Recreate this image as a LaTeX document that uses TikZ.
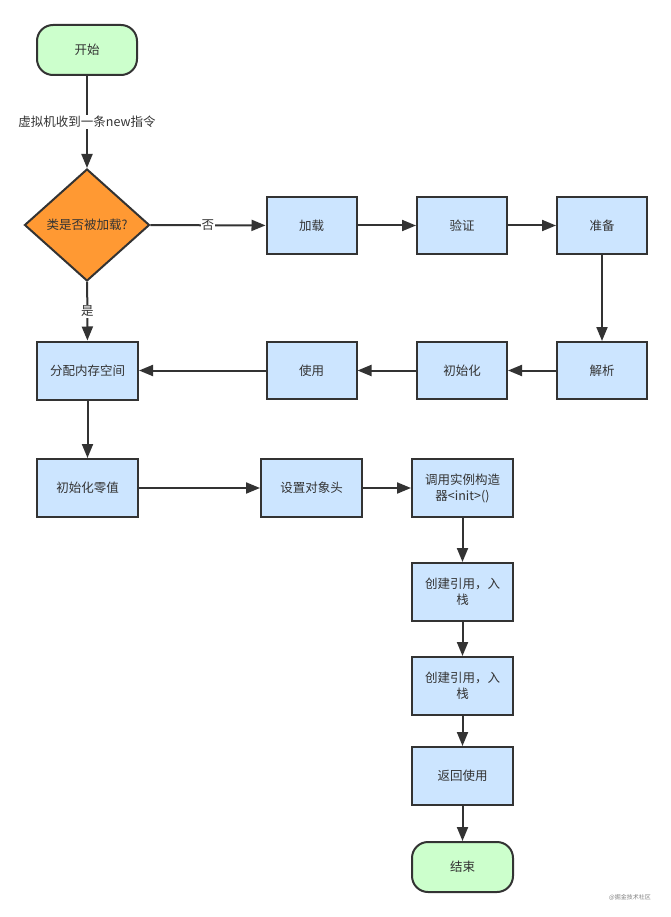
\documentclass[tikz,border=0pt]{standalone}
\usepackage{fontspec}
\setmainfont{Noto Sans CJK SC}
\usetikzlibrary{positioning, arrows.meta, shapes.geometric}
\definecolor{boxblue}{HTML}{CCE5FF}
\definecolor{termgreen}{HTML}{CCFFCC}
\definecolor{decorange}{HTML}{FF9933}
\definecolor{ink}{HTML}{333333}

\begin{document}
\begin{tikzpicture}[
  x=1pt, y=-1pt,
  font=\fontsize{12.5pt}{16pt}\selectfont,
  proc/.style={draw=ink, fill=boxblue, line width=2pt, align=center,
    minimum width=90pt, minimum height=57pt, inner sep=2pt, text=ink},
  wide/.style={proc, minimum width=101pt, minimum height=58pt},
  term/.style={draw=ink, fill=termgreen, rounded corners=16pt, line width=2pt,
    minimum width=100pt, minimum height=50pt, text=ink},
  decide/.style={diamond, draw=ink, fill=decorange, line width=2pt,
    minimum width=125pt, minimum height=112pt, inner sep=1pt, text=ink},
  edge/.style={-{Triangle[length=14pt, width=11pt]}, line width=2pt, draw=ink},
  lbl/.style={fill=white, inner sep=1pt, text=ink}
]
\useasboundingbox (0,0) rectangle (671,917);

% start and the check
\node[term] (start) at (87,50) {开始};
\node[decide] (loaded) at (87,225) {类是否被加载?};

% class loading row, then back to the left
\node[proc] (load) at (311.5,225.5) {加载};
\node[proc] (verify) at (462,225.5) {验证};
\node[proc] (prepare) at (602,225.5) {准备};
\node[proc] (resolve) at (602,370.5) {解析};
\node[proc] (init) at (462,370.5) {初始化};
\node[proc] (use) at (311.5,370.5) {使用};

% object creation
\node[wide] (alloc) at (87.5,370.5) {分配内存空间};
\node[wide] (zero) at (87.5,488) {初始化零值};
\node[wide] (header) at (311.5,488) {设置对象头};
\node[wide] (ctor) at (462.5,488) {调用实例构造\\器<init>()};
\node[wide] (ref1) at (462.5,592) {创建引用，入\\栈};
\node[wide] (ref2) at (462.5,686) {创建引用，入\\栈};
\node[wide] (ret) at (462.5,776) {返回使用};
\node[term, minimum width=101pt] (end) at (462.5,867) {结束};

% connectors
\draw[edge] (start) -- node[lbl] {虚拟机收到一条new指令} (loaded);
\draw[edge] (loaded) -- node[lbl] {否} (load);
\draw[edge] (loaded) -- node[lbl] {是} (alloc);
\draw[edge] (load) -- (verify);
\draw[edge] (verify) -- (prepare);
\draw[edge] (prepare) -- (resolve);
\draw[edge] (resolve) -- (init);
\draw[edge] (init) -- (use);
\draw[edge] (use) -- (alloc);
\draw[edge] (alloc) -- (zero);
\draw[edge] (zero) -- (header);
\draw[edge] (header) -- (ctor);
\draw[edge] (ctor) -- (ref1);
\draw[edge] (ref1) -- (ref2);
\draw[edge] (ref2) -- (ret);
\draw[edge] (ret) -- (end);

% watermark
\node[font=\fontsize{6pt}{7pt}\selectfont, text=gray] (mark) at (630,897) {@掘金技术社区};

\end{tikzpicture}
\end{document}
